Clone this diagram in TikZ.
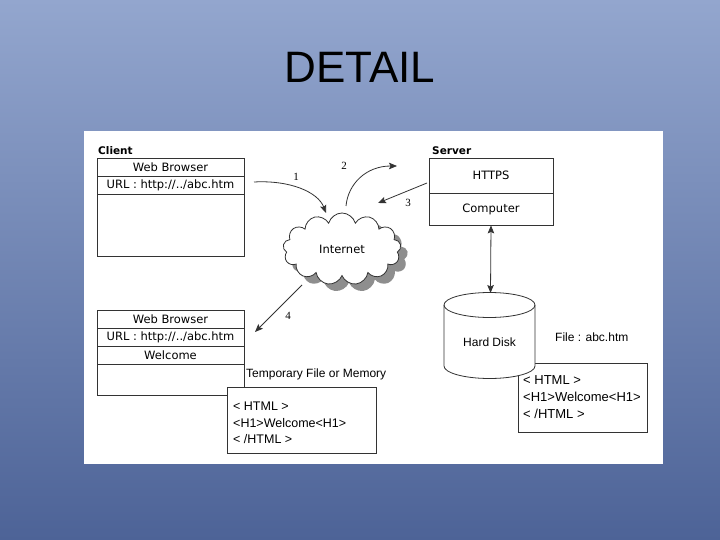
\documentclass[tikz,border=0pt]{standalone}
\usepackage{fontspec}
\setmainfont{Liberation Sans}
\newfontfamily\tah{DejaVu Sans}
\newfontfamily\numf{Liberation Serif}
\usetikzlibrary{arrows.meta,shapes.symbols}
\definecolor{bgtop}{HTML}{93A6CE}
\definecolor{bgbot}{HTML}{4D6397}
\definecolor{ln}{HTML}{333333}
\definecolor{shd}{HTML}{8E8E8E}
\begin{document}
\begin{tikzpicture}[x=1pt,y=-1pt,
  box/.style={draw=ln,line width=0.8pt,fill=white,inner sep=0pt,minimum width=147pt,font=\tah\fontsize{11.5}{13}\selectfont},
  sbox/.style={box,minimum width=124pt},
  plain/.style={inner sep=0pt,font=\fontsize{12}{16}\selectfont},
  code/.style={inner sep=0pt,align=left,font=\fontsize{12.5}{16.5}\selectfont},
  hdr/.style={inner sep=0pt,font=\tah\bfseries\fontsize{10.5}{12}\selectfont},
  num/.style={inner sep=0pt,font=\numf\fontsize{11}{12}\selectfont},
  arr/.style={draw=ln,line width=0.8pt,-{Stealth[length=8pt,width=6.5pt,inset=1.5pt]}},
  darr/.style={draw=ln,line width=0.8pt,{Stealth[length=8pt,width=6.5pt,inset=1.5pt]}-{Stealth[length=8pt,width=6.5pt,inset=1.5pt]}},
  puff/.style={cloud,cloud puffs=13,aspect=1.7,minimum width=118pt,minimum height=72pt,inner sep=0pt}
]
\useasboundingbox (0,0) rectangle (720,540);
\shade[top color=bgtop,bottom color=bgbot] (0,0) rectangle (720,540);
\node[font=\fontsize{44}{50}\selectfont,inner sep=0pt] (title) at (360,67) {DETAIL};
\fill[white] (84,131) rectangle (663,464);

% Client, first browser
\node[hdr,anchor=base west] (client) at (98,155) {Client};
\node[box,minimum height=18pt] (wb1) at (170.5,167) {Web Browser};
\node[box,minimum height=18pt] (url1) at (170.5,185) {URL : http://../abc.htm};
\node[box,minimum height=62pt] (blank1) at (170.5,225) {};

% Client, second browser
\node[box,minimum height=18pt] (wb2) at (170.5,319) {Web Browser};
\node[box,minimum height=18pt] (url2) at (170.5,337) {URL : http://../abc.htm};
\node[box,minimum height=18pt] (wel2) at (170.5,355) {Welcome};
\node[box,minimum height=31pt] (blank2) at (170.5,379.5) {};

% temporary file
\node[plain,anchor=base west] (tmplbl) at (246,377) {Temporary File or Memory};
\node[draw=ln,line width=0.8pt,fill=white,minimum width=149pt,minimum height=66pt,inner sep=0pt] (tmp) at (301.5,420) {};
\node[code,anchor=north west] (tmptxt) at (233,402) {< HTML >\\<H1>Welcome<H1>\\< /HTML >};

% Server
\node[hdr,anchor=base west] (server) at (432,155) {Server};
\node[sbox,minimum height=35pt] (https) at (491,175.5) {HTTPS};
\node[sbox,minimum height=32pt] (comp) at (491,209) {Computer};

% File box (behind disk)
\node[draw=ln,line width=0.8pt,fill=white,minimum width=129pt,minimum height=69pt,inner sep=0pt] (file) at (582.5,397.5) {};
\node[code,anchor=north west,font=\fontsize{13}{17}\selectfont] (filetxt) at (523,375) {< HTML >\\<H1>Welcome<H1>\\< /HTML >};
\node[plain,anchor=base west] (filelbl) at (555,341) {File : abc.htm};

% Hard disk cylinder
\filldraw[draw=ln,fill=white,line width=0.8pt] (444,305) -- (444,366) arc[start angle=180,end angle=0,x radius=45.5,y radius=12.5] -- (535,305);
\draw[ln,line width=0.8pt] (489.5,305) ellipse[x radius=45.5,y radius=12.5];
\coordinate (disktop) at (490.5,293);
\node[plain,anchor=base] (hd) at (489.5,346) {Hard Disk};

% Internet cloud
\node[puff,fill=shd] (netshadow) at (349,256) {};
\node[puff,draw=ln,line width=0.8pt,fill=white,font=\tah\fontsize{11.5}{12}\selectfont] (net) at (342,249) {Internet};

% connectors
\coordinate (a1s) at (254,182);
\coordinate (a1e) at (326,213);
\draw[arr] (a1s) .. controls (290,180) and (318,192) .. (a1e);
\node[num] (n1) at (296,177) {1};

\coordinate (a2s) at (346,206);
\coordinate (a2e) at (397,166);
\draw[arr] (a2s) .. controls (348,184) and (366,166) .. (a2e);
\node[num] (n2) at (344,166) {2};

\coordinate (a3s) at (427,183);
\coordinate (a3e) at (378,203);
\draw[arr] (a3s) -- (a3e);
\node[num] (n3) at (408,203) {3};

\coordinate (a4s) at (302,285);
\coordinate (a4e) at (255,332);
\draw[arr] (a4s) -- (a4e);
\node[num] (n4) at (288,316) {4};

\draw[darr] (comp.south) -- (disktop);
\end{tikzpicture}
\end{document}
